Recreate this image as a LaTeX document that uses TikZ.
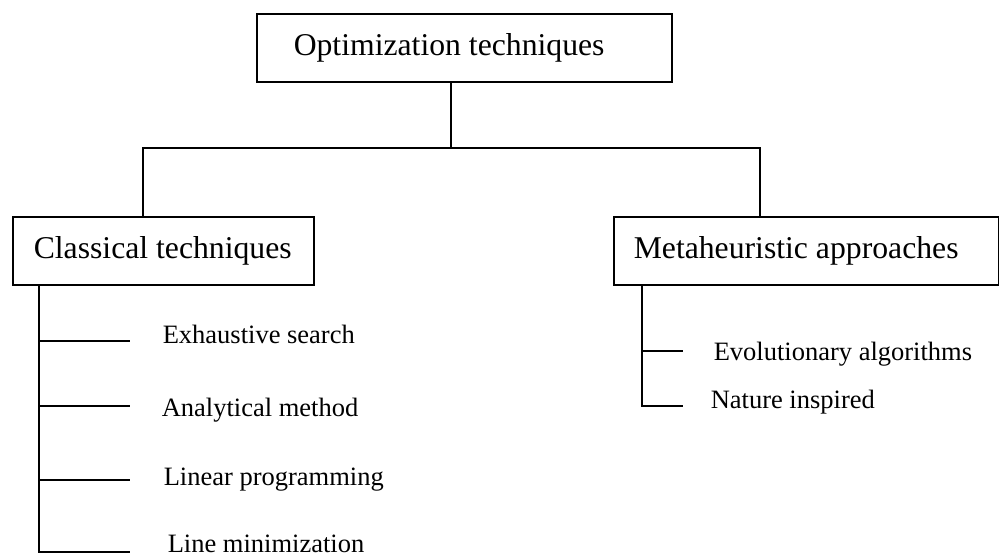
\documentclass[tikz,border=0pt]{standalone}
\usepackage{fontspec}
\setmainfont{Liberation Serif}
\begin{document}
\begin{tikzpicture}[x=1pt,y=-1pt,
  every path/.style={line width=1.5pt},
  boxnode/.style={draw, line width=1.5pt, anchor=north west, minimum height=68pt, inner ysep=0pt, font=\fontsize{31.7}{36}\selectfont},
  itemtext/.style={anchor=base west, inner sep=0pt, font=\fontsize{26.5}{30}\selectfont}]
\useasboundingbox (0,0) rectangle (999,557);
\node[boxnode, inner xsep=37pt] (top) at (256,13) {\makebox[341pt][l]{Optimization techniques}};
\node[boxnode, inner xsep=21pt] (cl) at (12,216) {\makebox[259pt][l]{Classical techniques}};
\node[boxnode, inner xsep=20pt] (mh) at (613,216) {\makebox[345pt][l]{Metaheuristic approaches}};
% top connectors
\draw ([xshift=131pt]cl.north west) -- ++(0,-68) coordinate (j) -| ([xshift=147pt]mh.north west);
\draw ([xshift=195pt]top.south west) -- ([xshift=195pt]top.south west |- j);
% classical items
\node[itemtext] (e1) at (162,343) {Exhaustive search};
\node[itemtext] (e2) at (161,416) {Analytical method};
\node[itemtext] (e3) at (163,485) {Linear programming};
\node[itemtext] (e4) at (167,552) {Line minimization};
\coordinate (c1) at (130,341);
\coordinate (c2) at (130,406);
\coordinate (c3) at (130,480);
\coordinate (c4) at (130,552);
\draw ([xshift=27pt]cl.south west) |- (c4);
\draw ([xshift=27pt]cl.south west |- c1) -- (c1);
\draw ([xshift=27pt]cl.south west |- c2) -- (c2);
\draw ([xshift=27pt]cl.south west |- c3) -- (c3);
% metaheuristic items
\node[itemtext] (m1) at (713,360) {Evolutionary algorithms};
\node[itemtext] (m2) at (710,408) {Nature inspired};
\coordinate (d1) at (683,351);
\coordinate (d2) at (683,406);
\draw ([xshift=29pt]mh.south west) |- (d2);
\draw ([xshift=29pt]mh.south west |- d1) -- (d1);
\end{tikzpicture}
\end{document}
